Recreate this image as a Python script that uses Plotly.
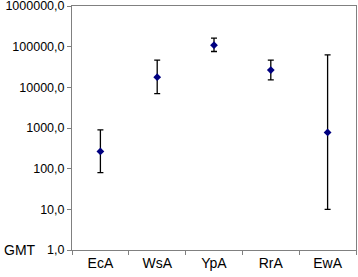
import plotly.graph_objects as go

categories = ["EcA", "WsA", "YpA", "RrA", "EwA"]
gmt = [265, 17800, 109000, 26500, 780]
upper = [900, 46500, 162000, 46500, 63000]
lower = [80, 7000, 76000, 15200, 10]
tick_vals = [1, 10, 100, 1000, 10000, 100000, 1000000]
tick_text = ["1,0", "10,0", "100,0", "1000,0", "10000,0", "100000,0", "1000000,0"]

err_plus = [u - g for u, g in zip(upper, gmt)]
err_minus = [g - l for g, l in zip(gmt, lower)]

fig = go.Figure(go.Scatter(
    x=categories, y=gmt, mode="markers",
    marker=dict(symbol="diamond", size=6, color="#000080"),
    error_y=dict(type="data", symmetric=False, array=err_plus, arrayminus=err_minus,
                 color="black", thickness=1.3, width=3),
    showlegend=False, cliponaxis=False,
))

yfont = dict(family="Liberation Sans, Arial, sans-serif", size=12.5, color="black")
xfont = dict(family="Liberation Sans, Arial, sans-serif", size=14, color="black")
fig.update_layout(
    width=358, height=277,
    margin=dict(l=72, r=2, t=6, b=27),
    paper_bgcolor="white", plot_bgcolor="white",
    font=yfont,
    xaxis=dict(showgrid=False, showline=True, linecolor="#808080", linewidth=1,
               mirror=True, ticks="outside", ticklen=4, tickcolor="#808080",
               tickson="boundaries", range=[-0.5, 4.5], tickfont=xfont,
               automargin=False),
    yaxis=dict(type="log", range=[0, 6], showgrid=False, showline=True,
               linecolor="#808080", linewidth=1, mirror=True, ticks="outside",
               ticklen=4, tickcolor="#808080", tickvals=tick_vals, ticktext=tick_text,
               tickfont=yfont, zeroline=False, automargin=False,
               ticklabeloverflow="allow"),
    annotations=[dict(text="GMT", x=0, y=0, xref="paper", yref="paper",
                      xshift=-70, xanchor="left", yanchor="middle", showarrow=False,
                      font=xfont)],
)

fig.write_html("out.html", config={"displayModeBar": False},
               post_script="document.body.style.margin='0';")
